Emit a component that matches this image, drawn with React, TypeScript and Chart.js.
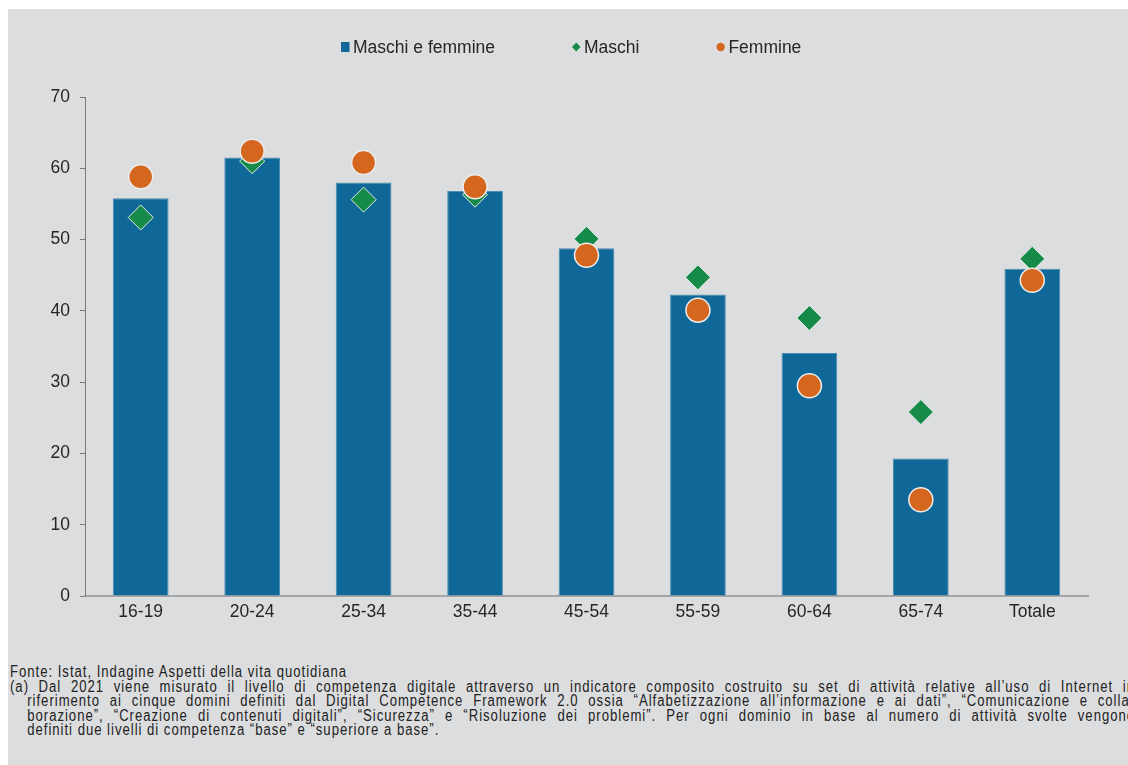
import React, { useEffect, useRef } from 'react';
import { Chart, registerables } from 'chart.js';

Chart.register(...registerables);

const categories = ['16-19', '20-24', '25-34', '35-44', '45-54', '55-59', '60-64', '65-74', 'Totale'];
const maschiEFemmine = [55.8, 61.5, 58.0, 56.8, 48.8, 42.3, 34.1, 19.3, 45.9];
const maschi = [53.1, 61.0, 55.6, 56.3, 50.1, 44.7, 39.0, 25.8, 47.3];
const femmine = [58.8, 62.4, 60.8, 57.4, 47.8, 40.1, 29.5, 13.5, 44.3];
const yTickValues = [0, 10, 20, 30, 40, 50, 60, 70];
const seriesLabels = ['Maschi e femmine', 'Maschi', 'Femmine'];

const footnoteLines = [
  'Fonte: Istat, Indagine Aspetti della vita quotidiana',
  '(a) Dal 2021 viene misurato il livello di competenza digitale attraverso un indicatore composito costruito su set di attività relative all’uso di Internet in',
  'riferimento ai cinque domini definiti dal Digital Competence Framework 2.0 ossia “Alfabetizzazione all’informazione e ai dati”, “Comunicazione e colla-',
  'borazione”, “Creazione di contenuti digitali”, “Sicurezza” e “Risoluzione dei problemi”. Per ogni dominio in base al numero di attività svolte vengono',
  'definiti due livelli di competenza “base” e “superiore a base”.',
];

const BLUE = '#0f6898';
const GREEN = '#168a48';
const ORANGE = '#d4661d';
const FONT = '"Liberation Sans", Arial, sans-serif';

const refLegend = {
  id: 'refLegend',
  afterDraw(chart: any) {
    const ctx = chart.ctx;
    ctx.save();
    ctx.font = `17.5px ${FONT}`;
    ctx.textBaseline = 'middle';
    const y = 38;
    let x = 333;
    const markerW = 8.5;
    chart.data.datasets.forEach((ds: any) => {
      ctx.fillStyle = ds.legendColor;
      const cx = x + markerW / 2;
      if (ds.legendShape === 'rect') {
        ctx.fillRect(x, y - 5, markerW, 10);
      } else if (ds.legendShape === 'diamond') {
        ctx.beginPath();
        ctx.moveTo(cx, y - 4.4);
        ctx.lineTo(cx + 4.3, y);
        ctx.lineTo(cx, y + 4.4);
        ctx.lineTo(cx - 4.3, y);
        ctx.closePath();
        ctx.fill();
      } else {
        ctx.beginPath();
        ctx.arc(cx, y, 4.2, 0, Math.PI * 2);
        ctx.fill();
      }
      ctx.fillStyle = '#262626';
      ctx.fillText(ds.label, x + markerW + 3.5, y + 1);
      x += markerW + 3.5 + ctx.measureText(ds.label).width + 77;
    });
    ctx.restore();
  },
};

export default function App() {
  const canvasRef = useRef<HTMLCanvasElement | null>(null);

  useEffect(() => {
    if (!canvasRef.current) return;
    const chart = new Chart(canvasRef.current, {
      type: 'bar',
      data: {
        labels: categories,
        datasets: [
          {
            type: 'bar',
            label: seriesLabels[0],
            data: maschiEFemmine,
            backgroundColor: BLUE,
            borderColor: '#4a8cb6',
            borderWidth: 1,
            barPercentage: 0.5,
            categoryPercentage: 1.0,
            order: 3,
            legendColor: BLUE,
            legendShape: 'rect',
          } as any,
          {
            type: 'line',
            label: seriesLabels[1],
            data: maschi,
            showLine: false,
            pointStyle: 'rectRot',
            pointRadius: 12.5,
            pointBackgroundColor: GREEN,
            pointBorderColor: '#e4ece7',
            pointBorderWidth: 1,
            order: 2,
            legendColor: GREEN,
            legendShape: 'diamond',
          } as any,
          {
            type: 'line',
            label: seriesLabels[2],
            data: femmine,
            showLine: false,
            pointStyle: 'circle',
            pointRadius: 12,
            pointBackgroundColor: ORANGE,
            pointBorderColor: '#ececec',
            pointBorderWidth: 1.5,
            order: 1,
            legendColor: ORANGE,
            legendShape: 'circle',
          } as any,
        ],
      },
      options: {
        responsive: false,
        animation: false,
        devicePixelRatio: 1,
        layout: { padding: { top: 88, right: 40, left: 0, bottom: 0 } },
        plugins: {
          legend: { display: false },
          tooltip: { enabled: false },
          title: { display: false },
        },
        scales: {
          x: {
            grid: { display: false },
            border: { display: true, color: '#a6a6a6', width: 2 },
            ticks: {
              color: '#262626',
              font: { family: FONT, size: 17.5 },
              padding: -2,
              maxRotation: 0,
            },
            afterFit: (scale: any) => {
              scale.height = 43;
            },
          },
          y: {
            min: 0,
            max: 70,
            afterBuildTicks: (scale: any) => {
              scale.ticks = yTickValues.map((v) => ({ value: v }));
            },
            grid: {
              display: true,
              drawOnChartArea: false,
              drawTicks: true,
              tickLength: 5,
              color: '#7a7a7a',
            },
            border: { display: true, color: '#7a7a7a', width: 1 },
            ticks: {
              color: '#262626',
              font: { family: FONT, size: 17.5 },
              padding: 10,
            },
            afterFit: (scale: any) => {
              scale.width = 77;
            },
          },
        },
      },
      plugins: [refLegend],
    });
    return () => chart.destroy();
  }, []);

  return (
    <div
      style={{
        position: 'fixed',
        left: 8,
        top: 9,
        right: 0,
        bottom: 0,
        background: '#dcdddf',
        overflow: 'hidden',
      }}
    >
      <canvas
        ref={canvasRef}
        width={1120}
        height={630}
        style={{ position: 'absolute', left: 0, top: 0, width: 1120, height: 630 }}
      />
      <div
        style={{
          position: 'absolute',
          left: 2,
          top: 656,
          width: 1118,
          overflow: 'hidden',
          fontFamily: FONT,
          fontSize: 16,
          lineHeight: '14.5px',
          color: '#222',
          whiteSpace: 'nowrap',
        }}
      >
        {footnoteLines.map((line, i) => {
          const justified = i >= 1 && i <= 3;
          return (
            <div
              key={i}
              style={{
                boxSizing: 'border-box',
                width: 1372,
                paddingLeft: i >= 2 ? 21 : 0,
                transform: 'scaleX(0.82)',
                transformOrigin: '0 0',
                letterSpacing: '1.2px',
                whiteSpace: justified ? 'normal' : 'nowrap',
                textAlign: justified ? 'justify' : 'left',
                textAlignLast: justified ? 'justify' : 'auto',
              }}
            >
              {line}
            </div>
          );
        })}
      </div>
    </div>
  );
}
